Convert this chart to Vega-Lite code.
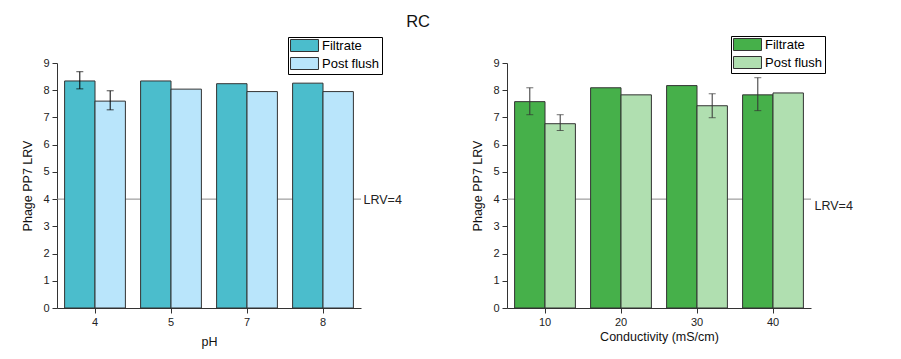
{
  "$schema": "https://vega.github.io/schema/vega-lite/v6.json",
  "background": "white",
  "padding": {"left": 21, "top": 14, "right": 5, "bottom": 5},
  "title": {"text": "RC", "fontSize": 16.5, "font": "Liberation Sans", "fontWeight": "normal", "anchor": "middle", "color": "#111", "dx": -19, "offset": 5},
  "config": {
    "font": "Liberation Sans",
    "view": {"stroke": null},
    "axis": {"domainColor": "#333", "tickColor": "#333", "labelColor": "#222", "titleColor": "#111", "labelFontSize": 11, "titleFontSize": 12.5, "titleFontWeight": "normal", "grid": false, "tickSize": 5, "labelPadding": 3}
  },
  "spacing": 146,
  "bounds": "flush",
  "resolve": {"scale": {"color": "independent"}, "legend": {"color": "independent"}},
  "datasets": {
    "ph": [
      {"cat": 4, "series": "Filtrate", "value": 8.34, "lo": 8.05, "hi": 8.68},
      {"cat": 4, "series": "Post flush", "value": 7.60, "lo": 7.28, "hi": 7.98},
      {"cat": 5, "series": "Filtrate", "value": 8.34},
      {"cat": 5, "series": "Post flush", "value": 8.04},
      {"cat": 7, "series": "Filtrate", "value": 8.24},
      {"cat": 7, "series": "Post flush", "value": 7.95},
      {"cat": 8, "series": "Filtrate", "value": 8.26},
      {"cat": 8, "series": "Post flush", "value": 7.95}
    ],
    "cond": [
      {"cat": 10, "series": "Filtrate", "value": 7.58, "lo": 7.10, "hi": 8.09},
      {"cat": 10, "series": "Post flush", "value": 6.77, "lo": 6.52, "hi": 7.10},
      {"cat": 20, "series": "Filtrate", "value": 8.09},
      {"cat": 20, "series": "Post flush", "value": 7.83},
      {"cat": 30, "series": "Filtrate", "value": 8.17},
      {"cat": 30, "series": "Post flush", "value": 7.43, "lo": 6.99, "hi": 7.87},
      {"cat": 40, "series": "Filtrate", "value": 7.83, "lo": 7.25, "hi": 8.46},
      {"cat": 40, "series": "Post flush", "value": 7.90}
    ],
    "lrv": [{"lrv": 4}]
  },
  "hconcat": [
    {
      "width": 304, "height": 245,
      "resolve": {"scale": {"y": "independent"}},
      "layer": [
        {
          "data": {"name": "lrv"},
          "mark": {"type": "rule", "color": "#888", "strokeWidth": 1},
          "encoding": {"y": {"field": "lrv", "type": "quantitative", "scale": {"domain": [0, 9], "nice": false},
            "axis": {"orient": "right", "values": [4], "labelExpr": "'LRV=4'", "domain": false, "ticks": false, "labelPadding": 2, "title": null, "labelFontSize": 12.5, "labelColor": "#222"}}}
        },
        {
          "data": {"name": "ph"},
          "encoding": {
            "x": {"field": "cat", "type": "ordinal", "scale": {"paddingInner": 0.2, "paddingOuter": 0.1}, "axis": {"labelAngle": 0, "title": "pH", "titlePadding": 8}},
            "xOffset": {"field": "series", "type": "nominal", "sort": ["Filtrate", "Post flush"]},
            "y": {"field": "value", "type": "quantitative", "scale": {"domain": [0, 9], "nice": false}, "axis": {"values": [0,1,2,3,4,5,6,7,8,9], "title": "Phage PP7 LRV", "titlePadding": 8}}
          },
          "layer": [
            {
              "mark": {"type": "bar", "stroke": "#333", "strokeWidth": 1},
              "encoding": {
                "color": {"field": "series", "type": "nominal", "scale": {"domain": ["Filtrate", "Post flush"], "range": ["#4BBDCC", "#B9E5FB"]},
                  "legend": {"orient": "none", "legendX": 231, "legendY": -26, "title": null, "symbolType": "M-2.33,-1H2.33V1H-2.33Z", "symbolSize": 144, "symbolOffset": 8, "symbolStrokeColor": "#333", "symbolStrokeWidth": 1, "symbolOpacity": 1, "labelFontSize": 13, "labelColor": "#000", "strokeColor": "#000", "padding": 2, "rowPadding": 1, "labelOffset": 11, "fillColor": "white"}}
              }
            },
            {
              "transform": [{"filter": "isValid(datum.lo)"}],
              "mark": {"type": "rule", "color": "#000", "strokeWidth": 1},
              "encoding": {"y": {"field": "lo", "type": "quantitative"}, "y2": {"field": "hi"}}
            },
            {
              "transform": [{"filter": "isValid(datum.lo)"}],
              "mark": {"type": "tick", "orient": "horizontal", "color": "#000", "size": 7, "thickness": 1},
              "encoding": {"y": {"field": "lo", "type": "quantitative"}}
            },
            {
              "transform": [{"filter": "isValid(datum.lo)"}],
              "mark": {"type": "tick", "orient": "horizontal", "color": "#000", "size": 7, "thickness": 1},
              "encoding": {"y": {"field": "hi", "type": "quantitative"}}
            }
          ]
        }
      ]
    },
    {
      "width": 304, "height": 245,
      "resolve": {"scale": {"y": "independent"}},
      "layer": [
        {
          "data": {"name": "lrv"},
          "mark": {"type": "rule", "color": "#888", "strokeWidth": 1},
          "encoding": {"y": {"field": "lrv", "type": "quantitative", "scale": {"domain": [0, 9], "nice": false},
            "axis": {"orient": "right", "values": [4], "labelExpr": "'LRV=4'", "domain": false, "ticks": false, "labelPadding": 3, "labelOffset": 6, "title": null, "labelFontSize": 12.5, "labelColor": "#222"}}}
        },
        {
          "data": {"name": "cond"},
          "encoding": {
            "x": {"field": "cat", "type": "ordinal", "scale": {"paddingInner": 0.2, "paddingOuter": 0.1}, "axis": {"labelAngle": 0, "title": "Conductivity (mS/cm)", "titlePadding": 3}},
            "xOffset": {"field": "series", "type": "nominal", "sort": ["Filtrate", "Post flush"]},
            "y": {"field": "value", "type": "quantitative", "scale": {"domain": [0, 9], "nice": false}, "axis": {"values": [0,1,2,3,4,5,6,7,8,9], "title": "Phage PP7 LRV", "titlePadding": 8}}
          },
          "layer": [
            {
              "mark": {"type": "bar", "stroke": "#333", "strokeWidth": 1},
              "encoding": {
                "color": {"field": "series", "type": "nominal", "scale": {"domain": ["Filtrate", "Post flush"], "range": ["#46B04A", "#B0DFB0"]},
                  "legend": {"orient": "none", "legendX": 224, "legendY": -27, "title": null, "symbolType": "M-2.33,-1H2.33V1H-2.33Z", "symbolSize": 144, "symbolOffset": 8, "symbolStrokeColor": "#333", "symbolStrokeWidth": 1, "symbolOpacity": 1, "labelFontSize": 13, "labelColor": "#000", "strokeColor": "#000", "padding": 2, "rowPadding": 1, "labelOffset": 11, "fillColor": "white"}}
              }
            },
            {
              "transform": [{"filter": "isValid(datum.lo)"}],
              "mark": {"type": "rule", "color": "#333", "strokeWidth": 1},
              "encoding": {"y": {"field": "lo", "type": "quantitative"}, "y2": {"field": "hi"}}
            },
            {
              "transform": [{"filter": "isValid(datum.lo)"}],
              "mark": {"type": "tick", "orient": "horizontal", "color": "#333", "size": 7, "thickness": 1},
              "encoding": {"y": {"field": "lo", "type": "quantitative"}}
            },
            {
              "transform": [{"filter": "isValid(datum.lo)"}],
              "mark": {"type": "tick", "orient": "horizontal", "color": "#333", "size": 7, "thickness": 1},
              "encoding": {"y": {"field": "hi", "type": "quantitative"}}
            }
          ]
        }
      ]
    }
  ]
}
